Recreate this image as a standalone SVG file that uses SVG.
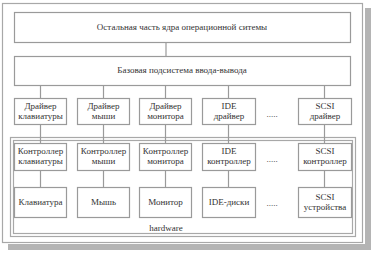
<svg xmlns="http://www.w3.org/2000/svg" width="373" height="254" viewBox="0 0 373 254">
<style>
.box{fill:#fff;stroke:#9a9a9a;stroke-width:1.2}
.frame{fill:none;stroke:#a8a8a8;stroke-width:1.2}
.ln{stroke:#9a9a9a;stroke-width:1.2;fill:none}
text{font-family:"Liberation Serif","Times New Roman",serif;font-size:9px;fill:#333;text-anchor:middle}
</style>
<rect x="0" y="0" width="373" height="254" fill="#fff"/>
<g id="shadow">
<rect x="365" y="8" width="6" height="242" fill="#b4b4b4"/>
<rect x="8" y="244" width="363" height="6" fill="#b4b4b4"/>
</g>
<rect class="frame" x="2.5" y="3.5" width="360" height="239"/>
<g id="hardware">
<rect class="frame" x="10.5" y="137.5" width="345" height="99"/>
<rect class="frame" x="13.5" y="140.5" width="339" height="93"/>
<text x="166" y="231">hardware</text>
</g>
<g id="connectors">
<line class="ln" x1="166" y1="42" x2="166" y2="56"/>
<line class="ln" x1="40.5" y1="85" x2="40.5" y2="98"/>
<line class="ln" x1="103.5" y1="85" x2="103.5" y2="98"/>
<line class="ln" x1="165.5" y1="85" x2="165.5" y2="98"/>
<line class="ln" x1="228.5" y1="85" x2="228.5" y2="98"/>
<line class="ln" x1="324.5" y1="85" x2="324.5" y2="98"/>
<line class="ln" x1="40.5" y1="124" x2="40.5" y2="143"/>
<line class="ln" x1="103.5" y1="124" x2="103.5" y2="143"/>
<line class="ln" x1="165.5" y1="124" x2="165.5" y2="143"/>
<line class="ln" x1="228.5" y1="124" x2="228.5" y2="143"/>
<line class="ln" x1="324.5" y1="124" x2="324.5" y2="143"/>
<line class="ln" x1="40.5" y1="170" x2="40.5" y2="187"/>
<line class="ln" x1="103.5" y1="170" x2="103.5" y2="187"/>
<line class="ln" x1="165.5" y1="170" x2="165.5" y2="187"/>
<line class="ln" x1="228.5" y1="170" x2="228.5" y2="187"/>
<line class="ln" x1="324.5" y1="170" x2="324.5" y2="187"/>
</g>
<g id="kernel">
<rect class="box" x="14.5" y="12.5" width="336" height="30"/>
<text x="182" y="30">Остальная часть ядра операционной ситемы</text>
</g>
<g id="bios">
<rect class="box" x="14.5" y="56.5" width="336" height="29"/>
<text x="182" y="73">Базовая подсистема ввода-вывода</text>
</g>
<g id="drv-kbd">
<rect class="box" x="14.5" y="98.5" width="52" height="26"/>
<text x="40.5" y="109">Драйвер</text><text x="40.5" y="119">клавиатуры</text>
</g>
<g id="drv-mouse">
<rect class="box" x="77.5" y="98.5" width="52" height="26"/>
<text x="103.5" y="109">Драйвер</text><text x="103.5" y="119">мыши</text>
</g>
<g id="drv-mon">
<rect class="box" x="139.5" y="98.5" width="52" height="26"/>
<text x="165.5" y="109">Драйвер</text><text x="165.5" y="119">монитора</text>
</g>
<g id="drv-ide">
<rect class="box" x="202.5" y="98.5" width="53" height="26"/>
<text x="229" y="109">IDE</text><text x="229" y="119">драйвер</text>
</g>
<g id="dots1"><text x="272" y="117">.....</text></g>
<g id="drv-scsi">
<rect class="box" x="298.5" y="98.5" width="53" height="26"/>
<text x="325" y="109">SCSI</text><text x="325" y="119">драйвер</text>
</g>
<g id="ctl-kbd">
<rect class="box" x="14.5" y="143.5" width="52" height="27"/>
<text x="40.5" y="154">Контроллер</text><text x="40.5" y="164">клавиатуры</text>
</g>
<g id="ctl-mouse">
<rect class="box" x="77.5" y="143.5" width="52" height="27"/>
<text x="103.5" y="154">Контроллер</text><text x="103.5" y="164">мыши</text>
</g>
<g id="ctl-mon">
<rect class="box" x="139.5" y="143.5" width="52" height="27"/>
<text x="165.5" y="154">Контроллер</text><text x="165.5" y="164">монитора</text>
</g>
<g id="ctl-ide">
<rect class="box" x="202.5" y="143.5" width="53" height="27"/>
<text x="229" y="154">IDE</text><text x="229" y="164">контроллер</text>
</g>
<g id="dots2"><text x="272" y="162">.....</text></g>
<g id="ctl-scsi">
<rect class="box" x="298.5" y="143.5" width="53" height="27"/>
<text x="325" y="154">SCSI</text><text x="325" y="164">контроллер</text>
</g>
<g id="dev-kbd">
<rect class="box" x="14.5" y="187.5" width="52" height="30"/>
<text x="40.5" y="205">Клавиатура</text>
</g>
<g id="dev-mouse">
<rect class="box" x="77.5" y="187.5" width="52" height="30"/>
<text x="103.5" y="205">Мышь</text>
</g>
<g id="dev-mon">
<rect class="box" x="139.5" y="187.5" width="52" height="30"/>
<text x="165.5" y="205">Монитор</text>
</g>
<g id="dev-ide">
<rect class="box" x="202.5" y="187.5" width="53" height="30"/>
<text x="229" y="205">IDE-диски</text>
</g>
<g id="dots3"><text x="272" y="206">.....</text></g>
<g id="dev-scsi">
<rect class="box" x="298.5" y="187.5" width="53" height="30"/>
<text x="325" y="200">SCSI</text><text x="325" y="210">устройства</text>
</g>
</svg>
